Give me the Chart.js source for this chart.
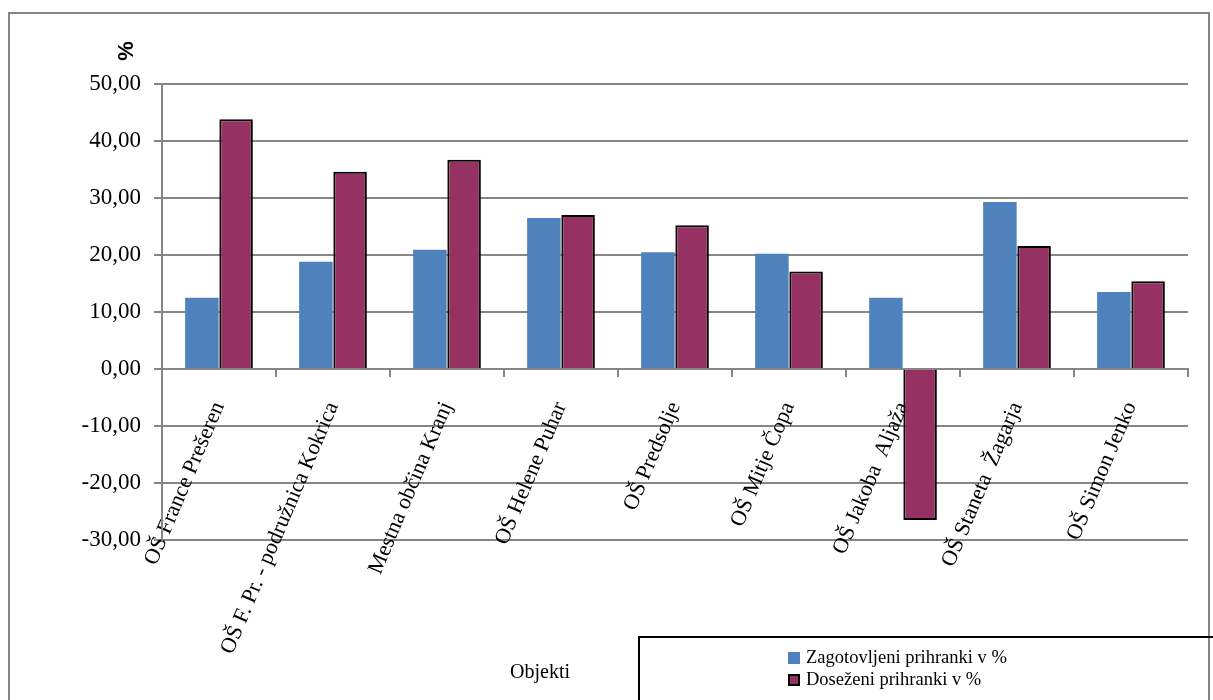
<!DOCTYPE html>
<html>
<head>
<meta charset="utf-8">
<script src="https://cdn.jsdelivr.net/npm/chart.js@4.4.0/dist/chart.umd.min.js"></script>
<style>
  body { margin: 0; background: #fff; }
  canvas { display: block; }
</style>
</head>
<body>
<canvas id="bars" width="1213" height="700"></canvas>
<script>
const categories = [
  'OŠ France Prešeren',
  'OŠ F. Pr. - podružnica Kokrica',
  'Mestna občina Kranj',
  'OŠ Helene Puhar',
  'OŠ Predsolje',
  'OŠ Mitje Čopa',
  'OŠ Jakoba  Aljaža',
  'OŠ Staneta  Žagarja',
  'OŠ Simon Jenko'
];
const zagotovljeni = [12.5, 18.8, 20.9, 26.5, 20.5, 20.2, 12.5, 29.3, 13.5];
const dosezeni = [43.8, 34.6, 36.7, 27.0, 25.2, 17.1, -26.5, 21.6, 15.4];
const seriesNames = ['Zagotovljeni prihranki v %', 'Doseženi prihranki v %'];
const yTicks = [-30, -20, -10, 0, 10, 20, 30, 40, 50];

const serif = '"Liberation Serif", "Times New Roman", serif';
const gridGray = '#868686';

// frame, axis titles and the boxed legend
const decor = {
  id: 'decor',
  beforeDraw(chart) {
    const ctx = chart.ctx;
    ctx.save();
    ctx.fillStyle = '#fff';
    ctx.fillRect(0, 0, chart.width, chart.height);
    ctx.strokeStyle = gridGray;
    ctx.lineWidth = 2;
    ctx.strokeRect(9, 13, 1200, 720);
    ctx.restore();
  },
  afterDraw(chart) {
    const ctx = chart.ctx;
    ctx.save();
    // "%" title
    ctx.translate(127, 51);
    ctx.rotate(-Math.PI / 2);
    ctx.font = 'bold 22px "Liberation Sans", Arial, sans-serif';
    ctx.fillStyle = '#000';
    ctx.textAlign = 'center';
    ctx.textBaseline = 'middle';
    ctx.fillText('%', 0, 0);
    ctx.restore();

    ctx.save();
    ctx.font = '20px ' + serif;
    ctx.fillStyle = '#000';
    ctx.textAlign = 'center';
    ctx.textBaseline = 'middle';
    ctx.fillText('Objekti', 540, 673);

    // legend box
    ctx.strokeStyle = '#000';
    ctx.lineWidth = 2;
    ctx.strokeRect(639, 637, 600, 100);
    ctx.font = '18.5px ' + serif;
    ctx.textAlign = 'left';
    chart.data.datasets.forEach((ds, i) => {
      const y = 658 + i * 22;
      ctx.fillStyle = ds.backgroundColor;
      ctx.fillRect(788, y - 6, 12, 12);
      if (ds.borderWidth) {
        ctx.strokeStyle = ds.borderColor;
        ctx.lineWidth = 2;
        ctx.strokeRect(789, y - 5, 10, 10);
      }
      ctx.fillStyle = '#000';
      ctx.fillText(ds.label, 806, y);
    });
    ctx.restore();
  }
};

new Chart(document.getElementById('bars'), {
  type: 'bar',
  data: {
    labels: categories,
    datasets: [
      {
        label: seriesNames[0],
        data: zagotovljeni,
        backgroundColor: '#4F81BD',
        borderWidth: 0,
        categoryPercentage: 0.6,
        barPercentage: 0.98
      },
      {
        label: seriesNames[1],
        data: dosezeni,
        backgroundColor: '#953163',
        borderColor: '#000',
        borderWidth: 2,
        categoryPercentage: 0.6,
        barPercentage: 0.98
      }
    ]
  },
  options: {
    responsive: false,
    animation: false,
    layout: { padding: { left: 0, top: 84, right: 25, bottom: 160 } },
    plugins: {
      legend: { display: false },
      tooltip: { enabled: false }
    },
    scales: {
      x: {
        position: { y: 0 },
        grid: {
          offset: true,
          drawOnChartArea: false,
          drawTicks: true,
          tickLength: 7,
          color: gridGray,
          lineWidth: 2
        },
        border: { display: true, color: gridGray, width: 2 },
        ticks: {
          autoSkip: false,
          minRotation: 67,
          maxRotation: 67,
          padding: 22,
          color: '#000',
          font: { family: serif, size: 22 }
        }
      },
      y: {
        min: -30,
        max: 50,
        afterBuildTicks(axis) {
          axis.ticks = yTicks.map(v => ({ value: v }));
        },
        afterFit(axis) {
          axis.width = 162;
        },
        grid: {
          color: gridGray,
          lineWidth: 2,
          tickLength: 8
        },
        border: { display: true, color: gridGray, width: 2 },
        ticks: {
          padding: 13,
          color: '#000',
          font: { family: serif, size: 23 },
          callback: v => v.toFixed(2).replace('.', ',')
        }
      }
    }
  },
  plugins: [decor]
});
</script>
</body>
</html>
